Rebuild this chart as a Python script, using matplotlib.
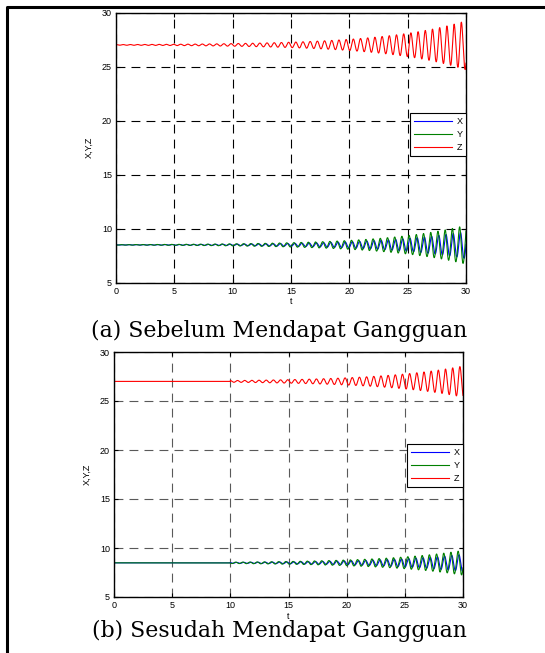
import numpy as np
import matplotlib.pyplot as plt
from matplotlib.lines import Line2D

# Sistem Lorenz di sekitar titik setimbang (X = Y = 8.49, Z = 27)
sigma, rho, beta = 10.0, 28.0, 8.0 / 3.0
t_akhir = 30.0
dt = 0.001  # langkah metode Euler

# waktu gangguan dan besar simpangan Z pada saat itu
t_gangguan = [0.0, 10.0]
amp_gangguan = [0.028, 0.085]

labels = ['X', 'Y', 'Z']
warna = ['b', 'g', 'r']
judul = ['(a) Sebelum Mendapat Gangguan', '(b) Sesudah Mendapat Gangguan']
xticks = [0, 5, 10, 15, 20, 25, 30]
yticks = [5, 10, 15, 20, 25, 30]


def lorenz(s):
    x, y, z = s
    return np.array([sigma * (y - x), x * (rho - z) - y, x * y - beta * z])


def simulasi(t0, amp):
    xe = np.sqrt(beta * (rho - 1))
    eq = np.array([xe, xe, rho - 1])
    J = np.array([[-sigma, sigma, 0.0],
                  [1.0, -1.0, -xe],
                  [xe, xe, -beta]])
    lam, vec = np.linalg.eig(J)
    v = vec[:, np.argmax(lam.real)]
    v = (v / v[2]).real
    t = np.arange(0, t_akhir + dt / 2, dt)
    out = np.zeros((len(t), 3))
    s = eq.copy()
    gangguan = False
    for i, ti in enumerate(t):
        if not gangguan and ti >= t0:
            s = eq + amp * v
            gangguan = True
        out[i] = s
        if gangguan:
            s = s + dt * lorenz(s)
    return t, out


plt.rcParams['font.family'] = ['Liberation Sans', 'DejaVu Sans']

fig = plt.figure(figsize=(5.45, 6.53), dpi=100)
posisi = [[116 / 545, 1 - 282.5 / 653, 350 / 545, 270 / 653],
          [114 / 545, 1 - 597 / 653, 349 / 545, 245 / 653]]
warna_grid = ['k', '0.35']
leg_y = [0.548, 0.537]
judul_y = [1 - 331 / 653, 1 - 631 / 653]

for k in range(2):
    ax = fig.add_axes(posisi[k])
    t, data = simulasi(t_gangguan[k], amp_gangguan[k])
    for j in range(3):
        ax.plot(t, data[:, j], color=warna[j], lw=0.8, label=labels[j])
    ax.set_xlim(0, 30)
    ax.set_ylim(5, 30)
    ax.set_xticks(xticks)
    ax.set_yticks(yticks)
    ax.tick_params(direction='in', length=3, labelsize=6.5, pad=3,
                   top=True, right=True, colors='k')
    ax.grid(True, color=warna_grid[k], linestyle=(0, (8, 5.5)), lw=0.8)
    for sp in ax.spines.values():
        sp.set_linewidth(1.0)
    ax.set_xlabel('t', fontsize=6.5, labelpad=1)
    ax.set_ylabel('X,Y,Z', fontsize=6.5, labelpad=6)
    ax.legend(loc='center right', bbox_to_anchor=(1, leg_y[k]), borderaxespad=0,
              fontsize=6.5, fancybox=False, edgecolor='k', framealpha=1,
              handlelength=4.2, handletextpad=0.5, labelspacing=0.45,
              borderpad=0.4)
    ax.get_legend().get_frame().set_linewidth(0.8)
    fig.text(279 / 545, judul_y[k], judul[k], ha='center', va='center',
             family='DejaVu Serif', fontsize=15.8)

# garis tepi kiri dan atas
fig.add_artist(Line2D([6.5 / 545, 6.5 / 545, 1], [0, 1 - 6.5 / 653, 1 - 6.5 / 653],
                      transform=fig.transFigure, color='k', lw=2.2))

fig.savefig('out.png', dpi=100)
